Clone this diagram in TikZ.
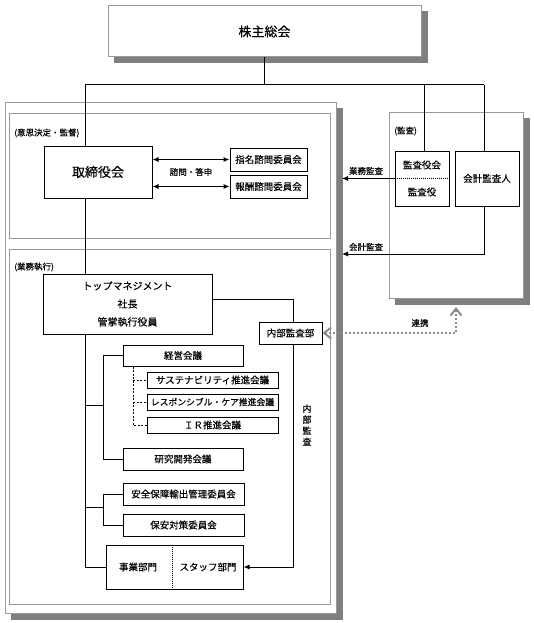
\documentclass[tikz,border=0pt]{standalone}
\usepackage{fontspec}
\setmainfont{Noto Sans CJK JP}[FakeBold=0.3]
\usetikzlibrary{arrows.meta,calc}
\definecolor{framegray}{HTML}{9A9A9A}
\definecolor{shadegray}{HTML}{7F7F7F}
\definecolor{linkgray}{HTML}{8C8C8C}
\pgfdeclarelayer{shadowlayer}
\pgfdeclarelayer{framelayer}
\pgfdeclarelayer{linelayer}
\pgfsetlayers{shadowlayer,framelayer,linelayer,main}
\begin{document}
\begin{tikzpicture}[x=1pt,y=-1pt,
  frame/.style={draw=framegray, line width=1pt, fill=white, rectangle, inner sep=0pt},
  shade/.style={fill=shadegray},
  nbox/.style={draw=black, line width=1pt, fill=white, rectangle, inner sep=0pt, font=\fontsize{9.5}{11}\selectfont},
  txt/.style={inner sep=0pt, font=\fontsize{9.5}{11}\selectfont},
  lbl/.style={inner sep=0pt, font=\fontsize{8.5}{10}\selectfont},
  conn/.style={line width=1pt, black},
  arr/.style={-{Latex[length=6pt,width=5pt]}},
  dbl/.style={{Latex[length=6pt,width=5pt]}-{Latex[length=6pt,width=5pt]}},
  dashline/.style={line width=0.9pt, black, dash pattern=on 2pt off 1.5pt},
  dotline/.style={line width=0.8pt, black, dash pattern=on 1pt off 1pt},
  link/.style={line width=2pt, linkgray, dash pattern=on 2pt off 2pt,
    {Straight Barb[length=7pt,width=11pt,line width=2pt]}-{Straight Barb[length=7pt,width=11pt,line width=2pt]}}
]
\useasboundingbox (0,0) rectangle (533,623);

% frames
\begin{pgfonlayer}{framelayer}
\node[frame, minimum width=331pt, minimum height=510pt] (outer) at (170.5,358) {};
\node[frame, minimum width=321pt, minimum height=124pt] (decide) at (169.5,176) {};
\node[frame, minimum width=321pt, minimum height=355pt] (exec) at (169.5,426.5) {};
\node[frame, minimum width=134pt, minimum height=185pt] (audit) at (456,205.5) {};
\end{pgfonlayer}

% nodes
\node[frame, minimum width=313pt, minimum height=51pt, font=\fontsize{13}{15}\selectfont] (gm) at (264.5,31.5) {株主総会};

\begin{pgfonlayer}{shadowlayer}
\fill[shade] ($(outer.north west)+(6,6)$) rectangle ($(outer.south east)+(6.5,6.5)$);
\fill[shade] ($(audit.north west)+(6,6)$) rectangle ($(audit.south east)+(6.5,6.5)$);
\fill[shade] ($(gm.north west)+(6,6)$) rectangle ($(gm.south east)+(6,6)$);
\end{pgfonlayer}

\node[lbl, anchor=west] (lblA) at (14,133) {(意思決定・監督)};
\node[lbl, anchor=west] (lblB) at (14,267) {(業務執行)};
\node[lbl, anchor=west] (lblC) at (394,131) {(監査)};

\node[nbox, minimum width=108pt, minimum height=52pt, font=\fontsize{13}{15}\selectfont] (tori) at (98,172) {取締役会};
\node[nbox, minimum width=77pt, minimum height=23pt] (shimei) at (268.5,159.5) {指名諮問委員会};
\node[nbox, minimum width=77pt, minimum height=23pt] (houshu) at (268.5,186.5) {報酬諮問委員会};
\node[lbl] (shimon) at (191,172) {諮問・答申};

\node[nbox, minimum width=54pt, minimum height=55pt] (kansayaku) at (422,178.5) {};
\node[txt] (kyk) at (422,165) {監査役会};
\node[txt] (ky) at (422,192) {監査役};
\node[nbox, minimum width=64pt, minimum height=55pt] (kaikei) at (487,178.5) {会計監査人};

\node[nbox, minimum width=169pt, minimum height=60pt, align=center, font=\fontsize{10}{18}\selectfont] (top) at (127.5,304) {トップマネジメント\\社長\\管掌執行役員};
\node[nbox, minimum width=63pt, minimum height=22pt] (naibu) at (290.5,333) {内部監査部};

\node[nbox, minimum width=120pt, minimum height=21pt] (keiei) at (183,355.5) {経営会議};
\node[nbox, minimum width=131pt, minimum height=16pt] (sus) at (212.5,380) {サステナビリティ推進会議};
\node[nbox, minimum width=131pt, minimum height=16pt, font=\fontsize{8.8}{10}\selectfont] (resp) at (212.5,402) {レスポンシブル・ケア推進会議};
\node[nbox, minimum width=131pt, minimum height=16pt] (ir) at (212.5,425) {ＩＲ推進会議};
\node[nbox, minimum width=120pt, minimum height=22pt] (kenkyu) at (183,459) {研究開発会議};
\node[nbox, minimum width=121pt, minimum height=22pt] (anzen) at (183.5,494) {安全保障輸出管理委員会};
\node[nbox, minimum width=121pt, minimum height=22pt] (hoan) at (183.5,525) {保安対策委員会};

\node[nbox, minimum width=137pt, minimum height=44pt] (jigyo) at (174.5,567) {};
\node[txt] (jg) at (138,567) {事業部門};
\node[txt] (st) at (208,567) {スタッフ部門};

\node[lbl] (gyomu) at (366,171) {業務監査};
\node[lbl] (kaikeiL) at (366,247) {会計監査};
\node[lbl] (renkei) at (420,323) {連携};
\node[lbl, align=center, font=\fontsize{9}{11}\selectfont] (naibuL) at (307,425) {内\\部\\監\\査};

% dividers
\draw[dotline] (kansayaku.west) -- (kansayaku.east);
\coordinate (jd) at (172,0);
\draw[dotline] (jd |- jigyo.north) -- (jd |- jigyo.south);

% connectors
\coordinate (busL) at (85,85);
\coordinate (busK) at (424.5,85);
\coordinate (busR) at (484,85);
\coordinate (br1) at (103,405);
\coordinate (br2) at (103,507);
\coordinate (dx) at (133,0);
\coordinate (ia) at (293,0);
\coordinate (ox) at (342,0);
\coordinate (ak) at (0,254);
\coordinate (lk) at (456,307);

\begin{pgfonlayer}{linelayer}
\draw[conn] (gm.south) -- (gm.south |- busL);
\draw[conn] (busL) -- (busR);
\draw[conn] (busK) -- (busK |- kansayaku.north);
\draw[conn] (busR) -- (busR |- kaikei.north);
\draw[conn] (busL) |- (jigyo.west);

\draw[conn] (busL |- br1) -- (br1);
\draw[conn] (keiei.west) -| (br1);
\draw[conn] (kenkyu.west) -| (br1);
\draw[dashline] (dx |- keiei.south) |- (ir.west);
\draw[dashline] (dx |- sus.west) -- (sus.west);
\draw[dashline] (dx |- resp.west) -- (resp.west);

\draw[conn] (busL |- br2) -- (br2);
\draw[conn] (anzen.west) -| (br2);
\draw[conn] (hoan.west) -| (br2);

\draw[conn] ([yshift=5pt]top.east) -| (ia |- naibu.north);
\draw[conn, arr] (ia |- naibu.south) |- (jigyo.east);

\draw[conn, dbl] (tori.east |- shimei.west) -- (shimei.west);
\draw[conn, dbl] (tori.east |- houshu.west) -- (houshu.west);

\draw[conn, arr] (kansayaku.west) -- (kansayaku.west -| ox);
\draw[conn, arr] (busR |- kaikei.south) |- (ox |- ak);
\end{pgfonlayer}

\draw[link] (naibu.east) -| (lk);
\end{tikzpicture}
\end{document}
